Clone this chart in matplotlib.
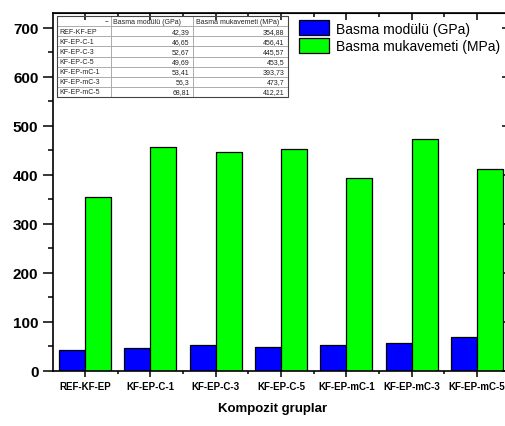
import matplotlib
matplotlib.use("Agg")
import matplotlib.pyplot as plt
import numpy as np
from matplotlib.ticker import MultipleLocator, FixedLocator

plt.rcParams['font.family'] = ['Liberation Sans', 'DejaVu Sans']

groups = ["REF-KF-EP", "KF-EP-C-1", "KF-EP-C-3", "KF-EP-C-5",
          "KF-EP-mC-1", "KF-EP-mC-3", "KF-EP-mC-5"]
modulus_gpa = [42.39, 46.65, 52.67, 49.69, 53.41, 56.3, 68.81]
strength_mpa = [354.88, 456.41, 445.57, 453.5, 393.73, 473.7, 412.21]
modulus_label = "Basma modülü (GPa)"
strength_label = "Basma mukavemeti (MPa)"
modulus_text = ["42,39", "46,65", "52,67", "49,69", "53,41", "56,3", "68,81"]
strength_text = ["354,88", "456,41", "445,57", "453,5", "393,73", "473,7", "412,21"]

W, H = 506, 427
fig = plt.figure(figsize=(W / 100, H / 100), dpi=100)
ax_l, ax_b = 53 / W, 1 - 372 / H
ax_w, ax_h = (509 - 53) / W, (372 - 14) / H
ax = fig.add_axes([ax_l, ax_b, ax_w, ax_h])

x = np.arange(len(groups))
w = 0.4
ax.bar(x - w / 2, modulus_gpa, w, color="#0000ff", edgecolor="black",
       linewidth=0.9, label=modulus_label)
ax.bar(x + w / 2, strength_mpa, w, color="#00ff00", edgecolor="black",
       linewidth=0.9, label=strength_label)

ax.set_xlim(-0.49, len(groups) - 0.51)
ax.set_ylim(0, 730)

minor_x = np.arange(-0.5, len(groups), 1.0)
ax.yaxis.set_major_locator(MultipleLocator(100))
ax.yaxis.set_minor_locator(MultipleLocator(50))
ax.set_xticks(x)
ax.set_xticklabels(groups, fontsize=7, fontweight="bold")
ax.xaxis.set_minor_locator(FixedLocator(minor_x))
for lbl in ax.get_yticklabels():
    lbl.set_fontweight("bold")
    lbl.set_fontsize(11)

ax.tick_params(axis="y", which="major", direction="out", length=7, width=1.1, pad=3.5)
ax.tick_params(axis="y", which="minor", direction="out", length=3.5, width=1.1)
ax.tick_params(axis="x", which="major", direction="out", length=4, width=1.1, pad=3)
ax.tick_params(axis="x", which="minor", direction="out", length=2.5, width=1.1)
for s in ax.spines.values():
    s.set_linewidth(1.2)

# inward mirrored ticks on top and right
sec_top = ax.secondary_xaxis("top")
sec_top.set_xticks(x)
sec_top.set_xticklabels([])
sec_top.xaxis.set_minor_locator(FixedLocator(minor_x))
sec_top.tick_params(which="major", direction="in", length=5, width=1.1)
sec_top.tick_params(which="minor", direction="in", length=3, width=1.1)
sec_right = ax.secondary_yaxis("right")
sec_right.yaxis.set_major_locator(MultipleLocator(100))
sec_right.yaxis.set_minor_locator(MultipleLocator(50))
sec_right.set_yticklabels([])
sec_right.tick_params(which="major", direction="in", length=5, width=1.1)
sec_right.tick_params(which="minor", direction="in", length=2, width=1.1)

ax.set_xlabel("Kompozit gruplar", fontsize=9.5, fontweight="bold")
ax.xaxis.set_label_coords((272.5 - 53) / (509 - 53), -31 / (372 - 14))

ax.legend(loc="upper left", bbox_to_anchor=((293 - 53) / (509 - 53), 0.995),
          frameon=False, fontsize=10, handlelength=2.2, handleheight=1.3,
          handletextpad=0.5, labelspacing=0.15, borderaxespad=0)

# data table in the upper-left corner
cell_text = [["--", modulus_label, strength_label]]
for g, m, s in zip(groups, modulus_text, strength_text):
    cell_text.append([g, m, s])
tx0, tx1, ty0, ty1 = 57, 288, 17, 98
col_px = [54, 82, 95]
tbl = ax.table(cellText=cell_text,
               colWidths=[c / W / ax_w for c in col_px],
               bbox=[(tx0 / W - ax_l) / ax_w,
                     (1 - ty1 / H - ax_b) / ax_h,
                     (tx1 - tx0) / W / ax_w,
                     (ty1 - ty0) / H / ax_h])
tbl.auto_set_font_size(False)
for (r, c), cell in tbl.get_celld().items():
    cell.set_linewidth(0.5)
    cell.set_edgecolor("#999999")
    cell.set_facecolor("white")
    t = cell.get_text()
    t.set_fontsize(5)
    t.set_color("#222222")
    if r == 0:
        cell.set_text_props(ha="right" if c == 0 else "left")
        cell.PAD = 0.03
    else:
        cell.set_text_props(ha="left" if c == 0 else "right")
        cell.PAD = 0.04
tbl_frame = plt.Rectangle((tx0 / W, 1 - ty1 / H), (tx1 - tx0) / W, (ty1 - ty0) / H,
                          transform=fig.transFigure, fill=False,
                          edgecolor="#444444", linewidth=0.8, zorder=10)
fig.patches.append(tbl_frame)

fig.savefig("out.png", dpi=100)
